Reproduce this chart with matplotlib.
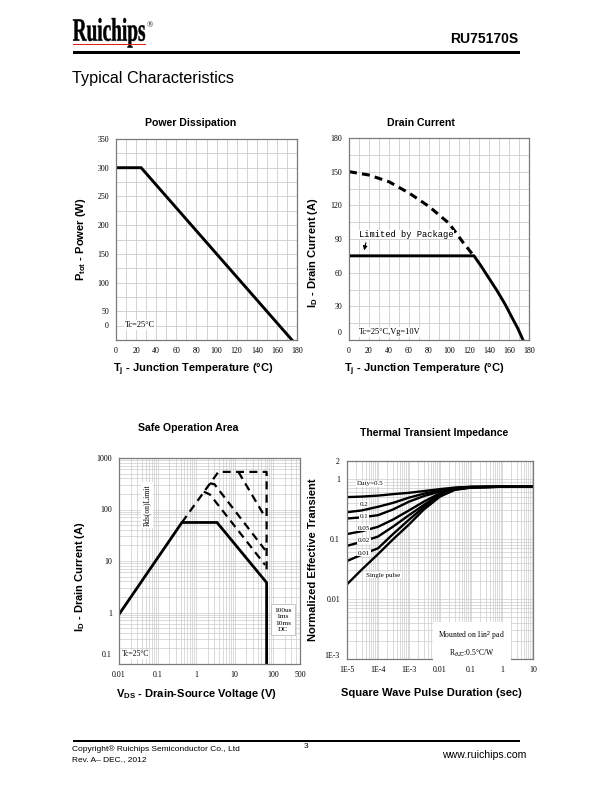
import matplotlib
matplotlib.use("Agg")
import matplotlib.pyplot as plt
from matplotlib.transforms import ScaledTranslation, Affine2D
from matplotlib.textpath import TextPath
from matplotlib.patches import PathPatch, Rectangle
from matplotlib.font_manager import FontProperties
from matplotlib.ticker import MultipleLocator, LogLocator, NullFormatter

plt.rcParams["font.family"] = ["Liberation Sans", "DejaVu Sans"]
plt.rcParams["mathtext.fontset"] = "custom"
plt.rcParams["mathtext.rm"] = "Liberation Sans"
plt.rcParams["mathtext.bf"] = "Liberation Sans:bold"
plt.rcParams["mathtext.it"] = "Liberation Sans:italic"

# ---- Power Dissipation
pd_temp = [0, 25, 175]
pd_power = [300, 300, 0]

# ---- Drain Current
id_pkg_temp = [0, 125, 132, 140, 148, 156, 163, 169, 174]
id_pkg_curr = [75, 75, 66, 55, 44, 32, 20, 10, 0]
id_chip_temp = [0, 20, 40, 60, 80, 100, 114, 123]
id_chip_curr = [150, 147, 141, 131, 119, 104, 87, 77]

# ---- Safe Operation Area
soa_dc_v = [0.01, 0.43, 3.5, 68, 68]
soa_dc_i = [0.92, 56, 56, 3.8, 0.1]
soa_lim_v = [0.43, 3.8, 68, 68]
soa_lim_i = [56, 537, 537, 5.8]
soa_100us_v = [12.6, 58]
soa_100us_i = [537, 78]
soa_1ms_v = [2.3, 3.0, 62]
soa_1ms_i = [323, 310, 16.4]
soa_10ms_v = [1.59, 2.3, 62]
soa_10ms_i = [222, 195, 8.4]
soa_xticks = [0.01, 0.1, 1, 10, 100, 500]
soa_xlabels = ["0.01", "0.1", "1", "10", "100", "500"]
soa_yticks = [0.1, 1, 10, 100, 1000]
soa_ylabels = ["0.1", "1", "10", "100", "1000"]

# ---- Thermal Transient Impedance
zth_t = [1e-5, 3e-5, 1e-4, 3e-4, 1e-3, 3e-3, 1e-2, 3e-2, 1e-1, 1, 10]
zth_d50 = [0.50, 0.51, 0.53, 0.56, 0.59, 0.63, 0.68, 0.72, 0.745, 0.745, 0.745]
zth_d20 = [0.28, 0.30, 0.345, 0.40, 0.49, 0.57, 0.65, 0.71, 0.74, 0.745, 0.745]
zth_d10 = [0.22, 0.23, 0.25, 0.31, 0.42, 0.52, 0.62, 0.70, 0.735, 0.745, 0.745]
zth_d05 = [0.121, 0.135, 0.16, 0.21, 0.30, 0.42, 0.58, 0.69, 0.73, 0.745, 0.745]
zth_d02 = [0.077, 0.09, 0.11, 0.16, 0.25, 0.37, 0.555, 0.68, 0.73, 0.745, 0.745]
zth_d01 = [0.043, 0.055, 0.07, 0.12, 0.21, 0.34, 0.54, 0.67, 0.725, 0.745, 0.745]
zth_single = [0.0176, 0.031, 0.056, 0.098, 0.175, 0.31, 0.51, 0.66, 0.72, 0.745, 0.745]
zth_xticks = [1e-5, 1e-4, 1e-3, 1e-2, 1e-1, 1, 10]
zth_xlabels = ["1E-5", "1E-4", "1E-3", "0.01", "0.1", "1", "10"]
zth_yticks = [1e-3, 1e-2, 1e-1, 1, 2]
zth_ylabels = ["1E-3", "0.01", "0.1", "1", "2"]

W, H = 612, 792
fig = plt.figure(figsize=(W / 100, H / 100), dpi=100)

SERIF = ["Liberation Serif", "DejaVu Serif"]
GRID = "#cccccc"


def axes_px(l, t, r, b):
    return fig.add_axes([l / W, 1 - b / H, (r - l) / W, (b - t) / H])


def style(ax):
    for s in ax.spines.values():
        s.set_color("#7a7a7a")
        s.set_linewidth(0.9)
    ax.tick_params(which="both", length=0, labelsize=5.7, pad=5)
    for lbl in ax.get_xticklabels() + ax.get_yticklabels():
        lbl.set_fontfamily(SERIF)
    ax.set_axisbelow(True)


def shift_first_ylabel(ax, dy):
    lbl = ax.yaxis.get_major_ticks()[0].label1
    lbl.set_transform(lbl.get_transform() + ScaledTranslation(0, dy / 100, fig.dpi_scale_trans))


def labels(ax, title, tpos, xl, xpos, yl, ypos):
    ax.set_title(title, fontsize=7.6, fontweight="bold", x=tpos[0], y=tpos[1], va="center", pad=0)
    ax.set_xlabel(xl, fontsize=8, fontweight="bold")
    ax.xaxis.set_label_coords(*xpos)
    ax.set_ylabel(yl, fontsize=8, fontweight="bold")
    ax.yaxis.set_label_coords(*ypos)


# ---------------- Power Dissipation
ax1 = axes_px(116, 139, 297, 340)
ax1.plot(pd_temp, pd_power, color="black", lw=2.1, solid_joinstyle="miter")
ax1.set_xlim(0, 180)
ax1.set_ylim(0, 350)
ax1.set_xticks(range(0, 181, 20))
ax1.set_yticks(range(0, 351, 50))
ax1.xaxis.set_minor_locator(MultipleLocator(10))
ax1.yaxis.set_minor_locator(MultipleLocator(25))
ax1.grid(which="both", color=GRID, lw=0.6)
style(ax1)
shift_first_ylabel(ax1, 15)
ax1.text(9, 26, "Tc=25°C", fontsize=6, family=SERIF, va="center",
         bbox=dict(fc="white", ec="none", pad=0.5))
labels(ax1, "Power Dissipation", (0.414, 1.08),
       r"T$_{\mathbf{j}}$ - Junction Temperature (°C)", (0.425, -0.105),
       r"P$_{\mathbf{tot}}$ - Power (W)", (-0.155, 0.5))

# ---------------- Drain Current
ax2 = axes_px(349, 138, 529, 340)
ax2.plot(id_chip_temp, id_chip_curr, color="black", lw=2.2, dashes=(2.6, 1.7))
ax2.plot(id_pkg_temp, id_pkg_curr, color="black", lw=2.1)
ax2.set_xlim(0, 180)
ax2.set_ylim(0, 180)
ax2.set_xticks(range(0, 181, 20))
ax2.set_yticks(range(0, 181, 30))
ax2.xaxis.set_minor_locator(MultipleLocator(10))
ax2.yaxis.set_minor_locator(MultipleLocator(15))
ax2.grid(which="both", color=GRID, lw=0.6)
style(ax2)
shift_first_ylabel(ax2, 8)
ax2.text(10, 94, "Limited by Package", fontsize=6.3, family=["Liberation Mono", "DejaVu Sans Mono"],
         va="center", bbox=dict(fc="white", ec="none", pad=0.3))
ax2.annotate("", xy=(14.5, 77.5), xytext=(17.5, 89),
             arrowprops=dict(arrowstyle="-|>", color="black", lw=0.8, mutation_scale=6))
ax2.text(10, 7, "Tc=25°C,Vg=10V", fontsize=6, family=SERIF, va="center",
         bbox=dict(fc="white", ec="none", pad=0.5))
labels(ax2, "Drain Current", (0.4, 1.074),
       r"T$_{\mathbf{j}}$ - Junction Temperature (°C)", (0.417, -0.105),
       r"I$_{\mathbf{D}}$ - Drain Current (A)", (-0.162, 0.43))

# ---------------- Safe Operation Area
ax3 = axes_px(119, 458, 300, 664)
ax3.set_xscale("log")
ax3.set_yscale("log")
dash_kw = dict(color="black", lw=1.6, dashes=(3.6, 2.4))
ax3.plot(soa_lim_v, soa_lim_i, **dash_kw)
ax3.plot(soa_100us_v, soa_100us_i, **dash_kw)
ax3.plot(soa_1ms_v, soa_1ms_i, **dash_kw)
ax3.plot(soa_10ms_v, soa_10ms_i, **dash_kw)
ax3.plot(soa_dc_v, soa_dc_i, color="black", lw=2.0)
ax3.set_xlim(0.01, 500)
ax3.set_ylim(0.1, 1000)
ax3.set_xticks(soa_xticks, soa_xlabels)
ax3.set_yticks(soa_yticks, soa_ylabels)
ax3.xaxis.set_minor_locator(LogLocator(subs=range(2, 10), numticks=20))
ax3.yaxis.set_minor_locator(LogLocator(subs=range(2, 10), numticks=20))
ax3.xaxis.set_minor_formatter(NullFormatter())
ax3.yaxis.set_minor_formatter(NullFormatter())
ax3.grid(which="both", color=GRID, lw=0.5)
style(ax3)
shift_first_ylabel(ax3, 10)
ax3.text(0.053, 123, "Rds(on)Limit", fontsize=5.5, family=SERIF, rotation=90,
         ha="center", va="center", bbox=dict(fc="white", ec="none", pad=1.5))
ax3.text(180, 0.72, "100us\n1ms\n10ms\nDC", fontsize=5.3, family=SERIF, ha="center",
         va="center", linespacing=1.35, bbox=dict(fc="white", ec="#b0b0b0", lw=0.5, pad=2.5))
ax3.text(0.0115, 0.155, "Tc=25°C", fontsize=5.5, family=SERIF, va="center",
         bbox=dict(fc="white", ec="none", pad=0.5))
labels(ax3, "Safe Operation Area", (0.38, 1.147),
       r"V$_{\mathbf{DS}}$ - Drain-Source Voltage (V)", (0.43, -0.112),
       r"I$_{\mathbf{D}}$ - Drain Current (A)", (-0.175, 0.424))

# ---------------- Thermal Transient Impedance
ax4 = axes_px(347, 461, 533, 659)
ax4.set_xscale("log")
ax4.set_yscale("log")
for curve in [zth_d50, zth_d20, zth_d10, zth_d05, zth_d02, zth_d01, zth_single]:
    ax4.plot(zth_t, curve, color="black", lw=1.7)
ax4.set_xlim(1e-5, 10)
ax4.set_ylim(1e-3, 2)
ax4.set_xticks(zth_xticks, zth_xlabels)
ax4.set_yticks(zth_yticks, zth_ylabels)
ax4.xaxis.set_minor_locator(LogLocator(subs=range(2, 10), numticks=20))
ax4.yaxis.set_minor_locator(LogLocator(subs=range(2, 10), numticks=20))
ax4.xaxis.set_minor_formatter(NullFormatter())
ax4.yaxis.set_minor_formatter(NullFormatter())
ax4.grid(which="both", color=GRID, lw=0.5)
style(ax4)
shift_first_ylabel(ax4, 4)
duty_labels = ["Duty=0.5", "0.2", "0.1", "0.05", "0.02", "0.01", "Single pulse"]
duty_x = [5.5e-5, 3.5e-5, 3.5e-5, 3.5e-5, 3.5e-5, 3.5e-5, 1.45e-4]
duty_y = [0.83, 0.38, 0.24, 0.152, 0.093, 0.058, 0.025]
for txt, x, y in zip(duty_labels, duty_x, duty_y):
    ax4.text(x, y, txt, fontsize=5, family=SERIF, ha="center", va="center",
             bbox=dict(fc="white", ec="none", pad=0.4))
ax4.text(0.105, 0.00175, "Mounted on 1in$^2$ pad\nR$_{\\theta JC}$:0.5°C/W", fontsize=5.5,
         family=SERIF, ha="center", va="center", linespacing=1.7,
         bbox=dict(fc="white", ec="none", pad=4))
labels(ax4, "Thermal Transient Impedance", (0.468, 1.14),
       "Square Wave Pulse Duration (sec)", (0.452, -0.145),
       "Normalized Effective Transient", (-0.156, 0.5))

# ---------------- page header / footer
def fxy(px, py):
    return px / W, 1 - py / H


fp = FontProperties(family="Liberation Serif", weight="bold")
tp = TextPath((0, 0), "Ruichips", size=100, prop=fp)
ext = tp.get_extents()
cap = TextPath((0, 0), "R", size=100, prop=fp).get_extents().height
sx = 72 / ext.width
sy = 21.4 / cap
logo_tr = (Affine2D().translate(-ext.x0, 0).scale(sx / 100, sy / 100)
           .translate(73 / 100, (H - 40.7) / 100) + fig.dpi_scale_trans)
fig.add_artist(PathPatch(tp, transform=logo_tr, fc="black", ec="black", lw=0.3))
fig.text(*fxy(147, 25), "®", fontsize=6, family=SERIF, va="center")
fig.add_artist(Rectangle(fxy(73, 45), 73 / W, 1.3 / H, transform=fig.transFigure,
                         fc="#e02020", ec="none"))
fig.text(*fxy(518, 39), "RU75170S", fontsize=10, fontweight="bold", ha="right", va="center")
fig.add_artist(Rectangle(fxy(73, 53.7), 447 / W, 3 / H, transform=fig.transFigure,
                         fc="black", ec="none"))
fig.text(*fxy(72, 79), "Typical Characteristics", fontsize=11.6, va="center")

fig.add_artist(Rectangle(fxy(73, 742), 447 / W, 2.5 / H, transform=fig.transFigure,
                         fc="black", ec="none"))
fig.text(*fxy(72, 749), "Copyright® Ruichips Semiconductor Co., Ltd", fontsize=6, va="center")
fig.text(*fxy(304, 747), "3", fontsize=6, va="center")
fig.text(*fxy(72, 760), "Rev. A– DEC., 2012", fontsize=6, va="center")
fig.text(*fxy(526, 755), "www.ruichips.com", fontsize=7.6, ha="right", va="center")

fig.savefig("out.png", dpi=100)
